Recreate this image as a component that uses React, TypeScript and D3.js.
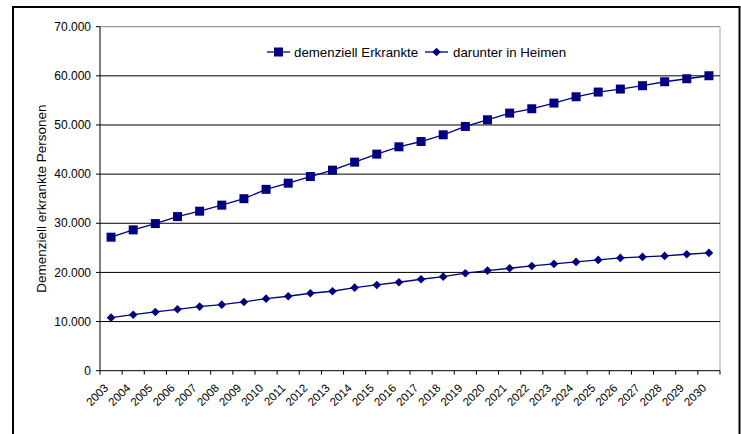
import React from "react";
import * as d3 from "d3";

const years: string[] = [
  "2003","2004","2005","2006","2007","2008","2009","2010","2011","2012",
  "2013","2014","2015","2016","2017","2018","2019","2020","2021","2022",
  "2023","2024","2025","2026","2027","2028","2029","2030",
];
const erkrankte: number[] = [
  27170, 28660, 29940, 31360, 32460, 33690, 35000, 36900, 38160, 39510,
  40810, 42440, 44070, 45560, 46640, 48000, 49700, 51060, 52420, 53300,
  54460, 55740, 56700, 57310, 57990, 58800, 59410, 60020,
];
const heimen: number[] = [
  10800, 11400, 11950, 12500, 13040, 13440, 13990, 14660, 15150, 15760,
  16170, 16900, 17450, 18000, 18610, 19140, 19840, 20370, 20850, 21320,
  21730, 22140, 22550, 22950, 23160, 23360, 23700, 23970,
];
const yTicks: number[] = [0, 10000, 20000, 30000, 40000, 50000, 60000, 70000];
const seriesNames: string[] = ["demenziell Erkrankte", "darunter in Heimen"];
const yTitle = "Demenziell erkrankte Personen";

const W = 741;
const H = 434;
const left = 100;
const right = 720;
const top = 26.7;
const bottom = 370.7;
const color = "#000080";
const font = "'Liberation Sans', Arial, sans-serif";

const fmt = (v: number) => (v === 0 ? "0" : d3.format(",")(v).replace(/,/g, "."));

export default function App() {
  const x = d3.scaleBand<string>().domain(years).range([left, right]).padding(0);
  const y = d3.scaleLinear().domain([0, 70000]).range([bottom, top]);
  const cx = (yr: string) => (x(yr) as number) + x.bandwidth() / 2;
  const line = d3
    .line<number>()
    .x((_, i) => cx(years[i]))
    .y((d) => y(d));

  const boundaries = years.map((yr) => x(yr) as number).concat([right]);

  const diamond = (px: number, py: number, r: number) =>
    `M${px},${py - r}L${px + r},${py}L${px},${py + r}L${px - r},${py}Z`;

  return (
    <svg
      width={W}
      height={H}
      style={{ position: "absolute", left: 0, top: 0, display: "block", background: "#fff" }}
      fontFamily={font}
    >
      <rect x={0} y={0} width={W} height={H} fill="#fff" />
      {/* outer chart border */}
      <rect x={13} y={7} width={726.5} height={440} fill="none" stroke="#000" strokeWidth={2} />

      {/* plot area border */}
      <line x1={left} x2={right} y1={top} y2={top} stroke="#808080" strokeWidth={1} />
      <line x1={right} x2={right} y1={top} y2={bottom} stroke="#c0c0c0" strokeWidth={1.5} />

      {/* gridlines */}
      {yTicks.filter((t) => t > 0 && t < 70000).map((t) => (
        <line key={t} x1={left} x2={right} y1={y(t)} y2={y(t)} stroke="#000" strokeWidth={1} />
      ))}

      {/* y axis */}
      <line x1={left} x2={left} y1={top} y2={bottom} stroke="#000" strokeWidth={1} />
      {yTicks.map((t) => (
        <g key={t}>
          <line x1={left - 4} x2={left} y1={y(t)} y2={y(t)} stroke="#000" strokeWidth={1} />
          <text x={91} y={y(t)} dy="0.35em" textAnchor="end" fontSize={12} fill="#000">
            {fmt(t)}
          </text>
        </g>
      ))}

      {/* x axis */}
      <line x1={left} x2={right} y1={bottom} y2={bottom} stroke="#000" strokeWidth={1} />
      {boundaries.map((bx, i) => (
        <line key={i} x1={bx} x2={bx} y1={bottom} y2={bottom + 4} stroke="#000" strokeWidth={1} />
      ))}
      {years.map((yr) => (
        <text
          key={yr}
          transform={`translate(${cx(yr) - 2},${bottom + 18}) rotate(-45)`}
          textAnchor="end"
          fontSize={11.5}
          fill="#000"
        >
          {yr}
        </text>
      ))}

      {/* y title */}
      <text
        transform={`translate(46,${(top + bottom) / 2}) rotate(-90)`}
        textAnchor="middle"
        fontSize={13.5}
        fill="#000"
      >
        {yTitle}
      </text>

      {/* series lines */}
      <path d={line(erkrankte) || ""} fill="none" stroke={color} strokeWidth={1.3} />
      <path d={line(heimen) || ""} fill="none" stroke={color} strokeWidth={1.3} />

      {/* markers */}
      {erkrankte.map((v, i) => (
        <rect key={i} x={cx(years[i]) - 4.5} y={y(v) - 4.5} width={9} height={9} fill={color} />
      ))}
      {heimen.map((v, i) => (
        <path key={i} d={diamond(cx(years[i]), y(v), 4.3)} fill={color} />
      ))}

      {/* legend */}
      <g>
        <line x1={267} x2={290} y1={52} y2={52} stroke={color} strokeWidth={1.3} />
        <rect x={274} y={47.5} width={9} height={9} fill={color} />
        <text x={294} y={52} dy="0.35em" fontSize={13.3} fill="#000">{seriesNames[0]}</text>
        <line x1={425} x2={448} y1={52} y2={52} stroke={color} strokeWidth={1.3} />
        <path d={diamond(436.5, 52, 4.3)} fill={color} />
        <text x={453} y={52} dy="0.35em" fontSize={13.3} fill="#000">{seriesNames[1]}</text>
      </g>
    </svg>
  );
}
